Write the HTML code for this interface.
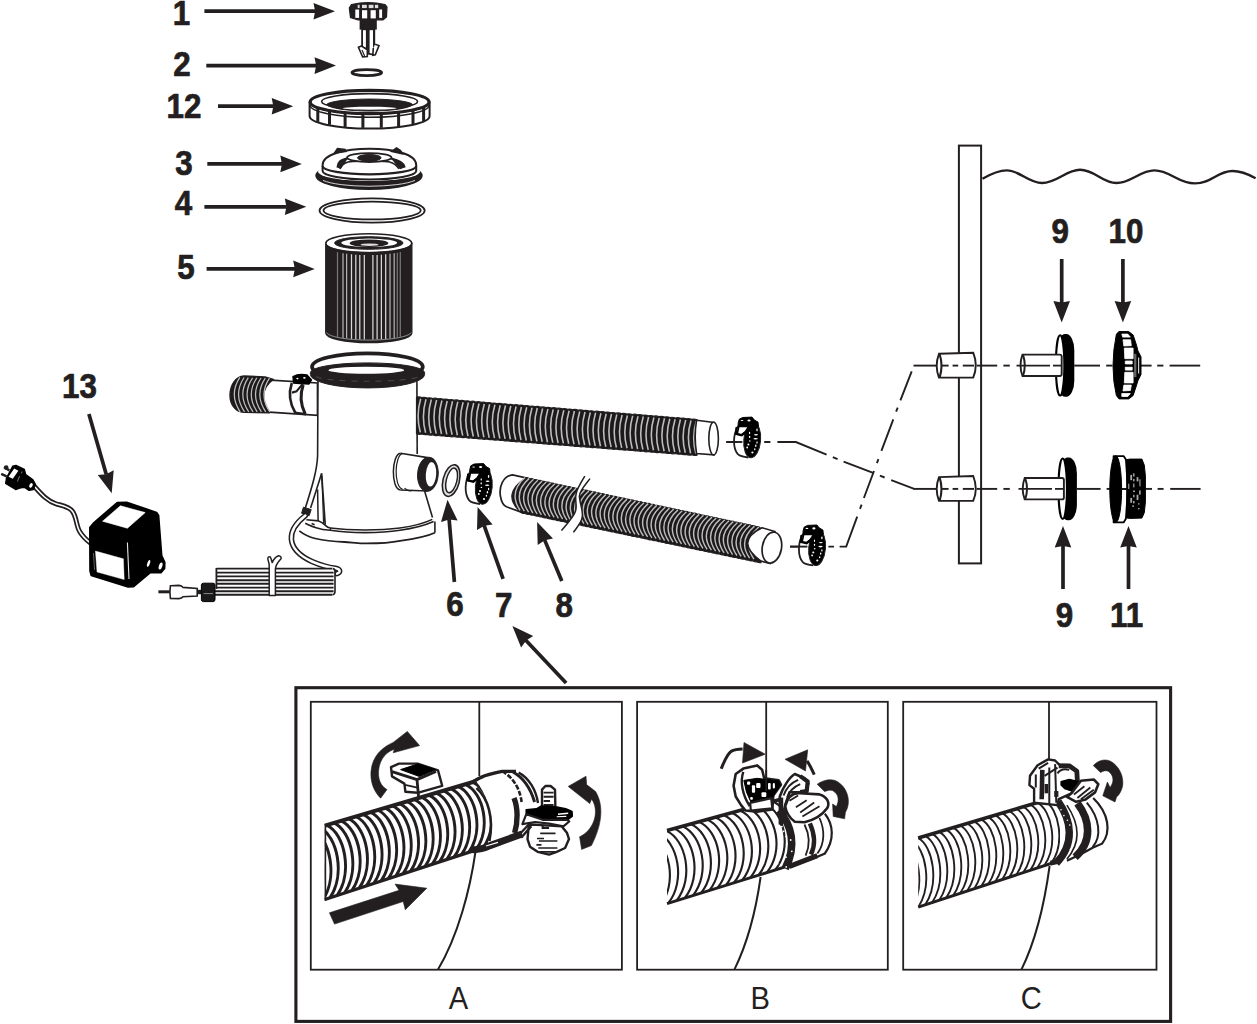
<!DOCTYPE html>
<html lang="en">
<head>
<meta charset="utf-8">
<title>Filter pump parts diagram</title>
<style>
html,body{margin:0;padding:0;background:#fff;}
body{width:1257px;height:1024px;overflow:hidden;font-family:"Liberation Sans",Arial,sans-serif;}
svg{display:block;}
.num{font-family:"Liberation Sans",Arial,sans-serif;font-weight:bold;font-size:33px;fill:#231f20;stroke:#231f20;stroke-width:0.7px;stroke-linejoin:round;text-anchor:middle;}
.let{font-family:"Liberation Sans",Arial,sans-serif;font-weight:normal;font-size:31px;fill:#231f20;text-anchor:middle;}
</style>
</head>
<body>
<svg width="1257" height="1024" viewBox="0 0 1257 1024">
<rect x="0" y="0" width="1257" height="1024" fill="#fff"/>
<g id="base">
<text class="num" transform="translate(181.5 24.9) scale(0.95 1.055)" x="0" y="0">1</text>
<text class="num" transform="translate(182 76.2) scale(0.95 1.055)" x="0" y="0">2</text>
<text class="num" transform="translate(184 117.9) scale(0.95 1.055)" x="0" y="0">12</text>
<text class="num" transform="translate(184 175.2) scale(0.95 1.055)" x="0" y="0">3</text>
<text class="num" transform="translate(183.5 214.6) scale(0.95 1.055)" x="0" y="0">4</text>
<text class="num" transform="translate(186 279.1) scale(0.95 1.055)" x="0" y="0">5</text>
<text class="num" transform="translate(79.5 398.1) scale(0.95 1.055)" x="0" y="0">13</text>
<text class="num" transform="translate(455 616.4) scale(0.95 1.055)" x="0" y="0">6</text>
<text class="num" transform="translate(503.8 617.4) scale(0.95 1.055)" x="0" y="0">7</text>
<text class="num" transform="translate(564.2 617.4) scale(0.95 1.055)" x="0" y="0">8</text>
<text class="num" transform="translate(1060.2 242.9) scale(0.95 1.055)" x="0" y="0">9</text>
<text class="num" transform="translate(1126 242.9) scale(0.95 1.055)" x="0" y="0">10</text>
<text class="num" transform="translate(1064.5 627.4) scale(0.95 1.055)" x="0" y="0">9</text>
<text class="num" transform="translate(1126.5 626.5) scale(0.95 1.055)" x="0" y="0">11</text>
<line x1="204.4" y1="11.2" x2="315.5" y2="11.2" stroke="#231f20" stroke-width="3.7"/><polygon points="335,11.2 313.5,19.5 315.1,11.2 313.5,2.9" fill="#231f20"/>
<line x1="206.3" y1="65.6" x2="316.5" y2="65.6" stroke="#231f20" stroke-width="3.7"/><polygon points="336,65.6 314.5,73.9 316.1,65.6 314.5,57.3" fill="#231f20"/>
<line x1="218" y1="106.2" x2="273.7" y2="106.2" stroke="#231f20" stroke-width="3.7"/><polygon points="293.2,106.2 271.7,114.5 273.3,106.2 271.7,97.9" fill="#231f20"/>
<line x1="207.3" y1="163.9" x2="282.3" y2="163.9" stroke="#231f20" stroke-width="3.7"/><polygon points="301.8,163.9 280.3,172.2 281.9,163.9 280.3,155.6" fill="#231f20"/>
<line x1="204.4" y1="206.8" x2="286.8" y2="206.8" stroke="#231f20" stroke-width="3.7"/><polygon points="306.3,206.8 284.8,215.1 286.4,206.8 284.8,198.5" fill="#231f20"/>
<line x1="206.6" y1="268.9" x2="295.2" y2="268.9" stroke="#231f20" stroke-width="3.7"/><polygon points="314.7,268.9 293.2,277.2 294.8,268.9 293.2,260.6" fill="#231f20"/>
<line x1="88.9" y1="414.1" x2="106.3" y2="474.6" stroke="#231f20" stroke-width="3.7"/><polygon points="111.7,493.3 97.8,474.9 106.2,474.2 113.7,470.3" fill="#231f20"/>
<line x1="454.4" y1="582" x2="449.1" y2="519.2" stroke="#231f20" stroke-width="3.7"/><polygon points="447.5,499.8 457.6,520.5 449.2,519.6 441,521.9" fill="#231f20"/>
<line x1="503.1" y1="578.8" x2="484.1" y2="525.3" stroke="#231f20" stroke-width="3.7"/><polygon points="477.6,506.9 492.6,524.4 484.3,525.7 477,529.9" fill="#231f20"/>
<line x1="561.8" y1="581" x2="544.6" y2="539.9" stroke="#231f20" stroke-width="3.7"/><polygon points="537.1,521.9 553,538.5 544.8,540.3 537.7,544.9" fill="#231f20"/>
<line x1="566.1" y1="683" x2="525.8" y2="640.3" stroke="#231f20" stroke-width="3.7"/><polygon points="512.4,626.1 533.2,636 526.1,640.6 521.1,647.4" fill="#231f20"/>
<line x1="1061.7" y1="259" x2="1061.7" y2="303" stroke="#231f20" stroke-width="3.7"/><polygon points="1061.7,322.5 1053.4,301 1061.7,302.6 1070,301" fill="#231f20"/>
<line x1="1122.9" y1="259" x2="1122.9" y2="303" stroke="#231f20" stroke-width="3.7"/><polygon points="1122.9,322.5 1114.6,301 1122.9,302.6 1131.2,301" fill="#231f20"/>
<line x1="1063" y1="589" x2="1063" y2="545.5" stroke="#231f20" stroke-width="3.7"/><polygon points="1063,526 1071.3,547.5 1063,545.9 1054.7,547.5" fill="#231f20"/>
<line x1="1128.5" y1="589" x2="1128.5" y2="545.5" stroke="#231f20" stroke-width="3.7"/><polygon points="1128.5,526 1136.8,547.5 1128.5,545.9 1120.2,547.5" fill="#231f20"/>
<rect x="295.9" y="687.7" width="874.7" height="333.7" fill="none" stroke="#231f20" stroke-width="3.1" />
<rect x="310.8" y="701.8" width="311.1" height="267.9" fill="none" stroke="#231f20" stroke-width="1.8" />
<rect x="637.1" y="701.8" width="250.7" height="267.9" fill="none" stroke="#231f20" stroke-width="1.8" />
<rect x="903.2" y="701.8" width="253.3" height="267.9" fill="none" stroke="#231f20" stroke-width="1.8" />
<text class="let" transform="translate(458.5 1009.4) scale(0.94 1)" x="0" y="0">A</text>
<text class="let" transform="translate(760.2 1009.4) scale(0.94 1)" x="0" y="0">B</text>
<text class="let" transform="translate(1031.2 1008.9) scale(0.94 1)" x="0" y="0">C</text>
</g>
<g id="top_parts">
<path d="M351.5,4.5 Q368,0.5 385,4.5 L387,7 L386.5,17 L383,19.8 L358,19.8 L350.5,17.5 L349.3,8 Z" fill="#231f20" stroke="#231f20" stroke-width="1.2" />
<rect x="357.7" y="4.8" width="1.9" height="3.3" fill="#fff" opacity="0.85"/>
<rect x="362" y="4.8" width="4.8" height="3.3" fill="#fff" opacity="0.85"/>
<rect x="368.7" y="4.8" width="4.8" height="3.3" fill="#fff" opacity="0.85"/>
<rect x="374.9" y="4.8" width="3.3" height="3.3" fill="#fff" opacity="0.85"/>
<rect x="355.3" y="9.5" width="3.8" height="8.4" fill="#fff"/>
<rect x="362" y="10.2" width="5.2" height="8.2" fill="#fff"/>
<rect x="370.6" y="10.2" width="5.2" height="8.2" fill="#fff"/>
<rect x="379.2" y="9.5" width="2.9" height="8.4" fill="#fff"/>
<rect x="359.6" y="19" width="17.2" height="10.6" fill="#231f20" stroke="none" stroke-width="0" />
<rect x="361.2" y="29" width="14" height="24.5" fill="#231f20" stroke="none" stroke-width="0" />
<rect x="363" y="30.2" width="2.9" height="17.5" fill="#fff" stroke="none" stroke-width="0" />
<rect x="369.6" y="30.2" width="3.4" height="23.5" fill="#fff" stroke="none" stroke-width="0" />
<path d="M358.4,47.2 L361.5,46 L367.3,49.8 L367.3,56.6 L362.6,56.9 Z" fill="#fff" stroke="#231f20" stroke-width="1.6" />
<path d="M362,50 L364.6,56" fill="none" stroke="#231f20" stroke-width="1.2" />
<path d="M375.2,44.2 L379,45.6 L375.3,54.8 L372.8,55.3 L373.3,48" fill="#fff" stroke="#231f20" stroke-width="1.6" />
<path d="M367.8,53.6 L374,54.8" fill="none" stroke="#231f20" stroke-width="1.6" />
<ellipse cx="366.8" cy="72.6" rx="14.8" ry="3" fill="none" stroke="#231f20" stroke-width="2.8" />
<path d="M309.6,101.5 L309.6,116 A60,12.6 0 0 0 429.6,116 L429.6,101.5 A60,12.3 0 0 1 309.6,101.5 Z" fill="#fff" stroke="#231f20" stroke-width="2" />
<path d="M310,105 A59.6,12.3 0 0 0 429.2,105" fill="none" stroke="#231f20" stroke-width="1.5" />
<line x1="317.8" y1="106.9" x2="317.8" y2="121.9" stroke="#231f20" stroke-width="3.0" />
<line x1="329.5" y1="109.8" x2="329.5" y2="124.8" stroke="#231f20" stroke-width="3.0" />
<line x1="345.1" y1="111.9" x2="345.1" y2="126.9" stroke="#231f20" stroke-width="3.0" />
<line x1="362.9" y1="112.9" x2="362.9" y2="127.9" stroke="#231f20" stroke-width="3.0" />
<line x1="381.3" y1="112.8" x2="381.3" y2="127.8" stroke="#231f20" stroke-width="3.0" />
<line x1="398.6" y1="111.5" x2="398.6" y2="126.5" stroke="#231f20" stroke-width="3.0" />
<line x1="413" y1="109.2" x2="413" y2="124.2" stroke="#231f20" stroke-width="3.0" />
<line x1="423.6" y1="106.1" x2="423.6" y2="121.1" stroke="#231f20" stroke-width="3.0" />
<ellipse cx="369.6" cy="102" rx="59.4" ry="11.6" fill="#fff" stroke="#231f20" stroke-width="3.2" />
<ellipse cx="369.6" cy="101.6" rx="48" ry="8" fill="#fff" stroke="#231f20" stroke-width="1.6" />
<path d="M326.5,104.5 A43.5,6.3 0 0 1 412.7,104.5 A43.5,7.6 0 0 1 326.5,104.5 Z" fill="#231f20" stroke="#231f20" stroke-width="1" />
<ellipse cx="369.6" cy="108.2" rx="27" ry="1.5" fill="#fff" stroke="none" stroke-width="0" />
<ellipse cx="369" cy="175.6" rx="52.6" ry="13.2" fill="#231f20" stroke="#231f20" stroke-width="2.2" />
<ellipse cx="369" cy="171.6" rx="51" ry="9.4" fill="#fff" stroke="none" stroke-width="0" />
<path d="M323,180.4 A50,9.6 0 0 0 415,180.4" fill="none" stroke="#fff" stroke-width="0.8" />
<path d="M322.6,165 C323,154 345,148.8 369.5,148.8 C394,148.8 416,154 416.2,165 L416.2,171 A46.8,8.5 0 0 1 322.6,171 Z" fill="#fff" stroke="#231f20" stroke-width="2" />
<path d="M322.6,166 A46.8,8.3 0 0 0 416.2,166" fill="none" stroke="#231f20" stroke-width="2.2" />
<path d="M334.5,153 L337.5,148.5 L345,149.5 L346,151.5 Z" fill="#231f20" stroke="#231f20" stroke-width="1.5" />
<path d="M391.5,151.5 L396.5,148 L400.5,150.5 L402.5,154 Z" fill="#231f20" stroke="#231f20" stroke-width="1.5" />
<path d="M337.5,167.5 C338,160 343,160 347,158.5 C352,153 386,153 391,158.5 C396,160 404,162 404.5,167.5" fill="none" stroke="#231f20" stroke-width="2.2" />
<path d="M340,168.8 C344,160 352,161.2 369,161.2 C386,161.2 393,160 399,168.8" fill="none" stroke="#231f20" stroke-width="1.6" />
<path d="M337.5,167 L341,160.5 L347,159 L340.5,168.5 Z" fill="#231f20" stroke="#231f20" stroke-width="1" />
<path d="M392,159 L399,161 L404.5,167 L400,168.8 Z" fill="#231f20" stroke="#231f20" stroke-width="1" />
<ellipse cx="369.3" cy="157.6" rx="22.2" ry="4.4" fill="#fff" stroke="#231f20" stroke-width="1.8" />
<ellipse cx="369.3" cy="157.8" rx="11.8" ry="3.3" fill="#231f20" stroke="#231f20" stroke-width="1" />
<ellipse cx="372.1" cy="210.5" rx="52.6" ry="12.2" fill="none" stroke="#231f20" stroke-width="1.7" />
<ellipse cx="372.1" cy="210.5" rx="48.6" ry="8.9" fill="none" stroke="#231f20" stroke-width="1.7" />
<path d="M325.8,243.3 L325.8,333 A43,9.6 0 0 0 411.8,333 L411.8,243.3 Z" fill="#231f20" stroke="#231f20" stroke-width="1.4" />
<line x1="337.5" y1="252.1" x2="337.5" y2="336.9" stroke="#777" stroke-width="1.25" />
<line x1="343" y1="253.2" x2="343" y2="337.9" stroke="#b0b0b0" stroke-width="1.25" />
<line x1="346.6" y1="253.7" x2="346.6" y2="338.4" stroke="#b0b0b0" stroke-width="1.25" />
<line x1="351.5" y1="254.3" x2="351.5" y2="338.9" stroke="#d8d8d8" stroke-width="1.25" />
<line x1="355.8" y1="254.7" x2="355.8" y2="339.2" stroke="#d8d8d8" stroke-width="1.25" />
<line x1="359.8" y1="254.9" x2="359.8" y2="339.4" stroke="#d8d8d8" stroke-width="1.25" />
<line x1="364.3" y1="255" x2="364.3" y2="339.6" stroke="#d8d8d8" stroke-width="1.25" />
<line x1="372.9" y1="255.1" x2="372.9" y2="339.6" stroke="#d8d8d8" stroke-width="1.25" />
<line x1="377.1" y1="254.9" x2="377.1" y2="339.4" stroke="#d8d8d8" stroke-width="1.25" />
<line x1="381.4" y1="254.7" x2="381.4" y2="339.2" stroke="#d8d8d8" stroke-width="1.25" />
<line x1="385.7" y1="254.3" x2="385.7" y2="338.9" stroke="#d8d8d8" stroke-width="1.25" />
<line x1="390" y1="253.8" x2="390" y2="338.5" stroke="#b0b0b0" stroke-width="1.25" />
<line x1="394.2" y1="253.2" x2="394.2" y2="337.9" stroke="#b0b0b0" stroke-width="1.25" />
<line x1="397.3" y1="252.7" x2="397.3" y2="337.4" stroke="#777" stroke-width="1.25" />
<line x1="400.3" y1="252" x2="400.3" y2="336.8" stroke="#777" stroke-width="1.25" />
<path d="M326.4,332.5 A42.6,8.4 0 0 0 411.2,332.5" fill="none" stroke="#999" stroke-width="0.9" />
<ellipse cx="368.8" cy="243.3" rx="43" ry="9.6" fill="#fff" stroke="#231f20" stroke-width="1.6" />
<path d="M326.5,244.5 A42.5,8.6 0 0 0 411,244.5 A42.5,10.4 0 0 1 326.5,244.5 Z" fill="#231f20" stroke="#231f20" stroke-width="0.5" />
<ellipse cx="368.8" cy="243" rx="34.2" ry="6.3" fill="#231f20" stroke="#231f20" stroke-width="1" />
<ellipse cx="369.2" cy="242.8" rx="28" ry="4.2" fill="#fff" stroke="none" stroke-width="0" />
<ellipse cx="369" cy="243.2" rx="19.4" ry="3.8" fill="#231f20" stroke="none" stroke-width="0" />
<ellipse cx="369.5" cy="244.7" rx="9" ry="1.2" fill="#ddd" stroke="none" stroke-width="0" />
</g>
<g id="pump">
<path d="M262,379.6 L317.5,383 L317.5,415.4 L262,411.6 Z" fill="#fff" stroke="#231f20" stroke-width="1.7" />
<path d="M244,376 C236,376.6 230.4,384 230,394.6 C229.8,404 235,411.6 244,412.4 L269.6,412.8 C262.6,405 259,389 273.4,379.4 L265,377 Z" fill="#1c1a1b" stroke="#231f20" stroke-width="1.4" stroke-linejoin="round"/>
<path d="M239.8,377.4 Q228.6,394.6 240.2,411.8 M244.1,377.5 Q232.8,394.6 244.5,411.8 M248.3,377.6 Q237.1,394.6 248.7,411.8 M252.6,377.8 Q241.3,394.6 253,411.8 M256.8,377.9 Q245.6,394.6 257.2,411.8 M261,378 Q249.8,394.6 261.4,411.8 M265.3,378.1 Q254.1,394.6 265.7,411.8 M269.5,378.2 Q258.3,394.6 269.9,411.8" fill="none" stroke="#bdbdbd" stroke-width="1.25"/>
<path d="M291.8,383 Q286.6,398.6 295.4,413" fill="none" stroke="#231f20" stroke-width="2.6" />
<path d="M303.2,385 Q298,399.6 305.2,414" fill="none" stroke="#231f20" stroke-width="3.0" />
<path d="M294.6,412.6 L306,414.2" fill="none" stroke="#231f20" stroke-width="2.4" />
<path d="M293,376.5 Q299,373.2 307,375 L311.5,380 L309,384 L300,383.5 L293.5,383 Z" fill="#000" stroke="#000" stroke-width="1.4" stroke-linejoin="round"/>
<ellipse cx="297.4" cy="378.6" rx="1.1" ry="0.8" fill="#fff"/><ellipse cx="304.4" cy="377.8" rx="1.3" ry="0.9" fill="#fff"/>
<path d="M303,383.6 L296.5,391.4 L292,392.6" fill="none" stroke="#231f20" stroke-width="2.2" />
<path d="M318,372 L317.6,456 C317,470 314,482 303.8,513.5 L301.5,521 L299.5,530 C320,548 410,548 434.9,533 L434.9,521.5 L432.3,517 L424.4,490.8 L417.4,455 L416.9,372 Z" fill="#fff" stroke="none" stroke-width="0" />
<path d="M318,380 L317.6,456 C317,470 313,484 303.6,513.5" fill="none" stroke="#231f20" stroke-width="1.6" />
<path d="M416.9,380 L417.2,454" fill="none" stroke="#231f20" stroke-width="1.6" />
<path d="M424.6,491 L432.5,517.5" fill="none" stroke="#231f20" stroke-width="1.6" />
<path d="M321.6,473.6 L310.6,508" fill="none" stroke="#231f20" stroke-width="1.6" />
<path d="M303.4,507.2 L311.2,509.6 L309.2,515.6 L301.6,513.2 Z" fill="#231f20" stroke="#231f20" stroke-width="1" />
<path d="M317.6,489.4 L318.1,520.4" fill="none" stroke="#231f20" stroke-width="1.5" />
<path d="M321.6,473.4 L325.2,524.6" fill="none" stroke="#231f20" stroke-width="1.7" />
<path d="M321.9,476 L323.6,523.8" fill="none" stroke="#231f20" stroke-width="1.2" />
<path d="M306.4,519.8 L318.7,520.9 C322,522 324,524 325.7,525.6 C327,527 329,527.8 330.4,528 C350,530.6 380,530.6 400,528 C414,526 425,523 432.3,519.4" fill="none" stroke="#231f20" stroke-width="1.6" />
<path d="M305.2,523.3 C309,525 312,526.6 315.2,527.4 C320,529 325,530 330.4,530.3 C350,533.4 380,533.4 400,530.3 C414,528.4 426,525 433.6,521.6" fill="none" stroke="#231f20" stroke-width="1.6" />
<path d="M330.4,528 L330.4,530.3" fill="none" stroke="#231f20" stroke-width="1.2" />
<path d="M311.6,523.6 L314.6,524.8" fill="none" stroke="#231f20" stroke-width="1.6" />
<path d="M434.9,521.6 L434.9,532.8" fill="none" stroke="#231f20" stroke-width="1.6" />
<path d="M299.3,530.9 C304,534.6 309,537 315.2,538.5 C326,541 335,541.6 344.5,542 C352,542.6 358,543.4 362,543.4 C380,543.6 392,542.6 400,540.9 C414,539 428,536 434.9,532.8" fill="none" stroke="#231f20" stroke-width="1.8" />
<ellipse cx="367.4" cy="366.8" rx="55.4" ry="13.5" fill="#fff" stroke="#231f20" stroke-width="3.7" />
<path d="M310.4,372.6 A57,9.7 0 0 1 424.6,372.6 L424.6,374.4 A57,13.5 0 0 1 310.4,374.4 Z" fill="#231f20" stroke="#231f20" stroke-width="1" />
<ellipse cx="366.3" cy="370.2" rx="37.9" ry="3.5" fill="#fff" stroke="none" stroke-width="0" />
<path d="M316,376.6 A52,5.6 0 0 0 418.6,376.6" fill="none" stroke="#5a5a5a" stroke-width="0.7" stroke-dasharray="6 6"/>
<path d="M402.5,453.1 L428,457.6 L428,490.9 L402.5,489.9 Z" fill="#fff" stroke="none" stroke-width="0" />
<path d="M400.5,453.2 C391.5,454 390.5,489 400.5,490" fill="#fff" stroke="#231f20" stroke-width="1.5" />
<path d="M402.5,453.6 C394.5,455 393.5,487 402.5,489.2" fill="none" stroke="#231f20" stroke-width="1.2" />
<path d="M400.5,453.2 L427.5,457.6 M400.5,490 L427.5,491" fill="none" stroke="#231f20" stroke-width="1.6" />
<path d="M404.5,488.2 Q408,491.8 412.5,490.4" fill="none" stroke="#231f20" stroke-width="1.2" />
<ellipse cx="427.9" cy="474.2" rx="10.3" ry="17" fill="#231f20" stroke="#231f20" stroke-width="1" transform="rotate(4 427.9 474.2)"/>
<ellipse cx="431" cy="474.3" rx="5.2" ry="12.2" fill="#fff" stroke="none" stroke-width="0" transform="rotate(4 431 474.3)"/>
<ellipse cx="451.2" cy="480.6" rx="8.2" ry="16.2" fill="#ddd" stroke="#231f20" stroke-width="1.6" transform="rotate(14 451.2 480.6)"/>
<ellipse cx="451.6" cy="480.4" rx="5.3" ry="12.6" fill="#fff" stroke="#231f20" stroke-width="1.5" transform="rotate(14 451.6 480.4)"/>
</g>
<g id="hoses">
<path d="M416.5,397.2 Q419.3,396.4 421.9,397.6 Q424.7,396.9 427.3,398.1 Q430.1,397.3 432.7,398.5 Q435.5,397.7 438.1,398.9 Q440.9,398.2 443.5,399.4 Q446.2,398.6 448.9,399.8 Q451.6,399 454.3,400.2 Q457,399.4 459.7,400.7 Q462.4,399.9 465,401.1 Q467.8,400.3 470.4,401.5 Q473.2,400.7 475.8,402 Q478.6,401.2 481.2,402.4 Q484,401.6 486.6,402.8 Q489.4,402 492,403.3 Q494.8,402.5 497.4,403.7 Q500.2,402.9 502.8,404.1 Q505.6,403.3 508.2,404.6 Q511,403.8 513.6,405 Q516.4,404.2 519,405.4 Q521.8,404.6 524.4,405.9 Q527.2,405.1 529.8,406.3 Q532.6,405.5 535.2,406.7 Q538,405.9 540.6,407.2 Q543.3,406.4 546,407.6 Q548.7,406.8 551.4,408 Q554.1,407.2 556.8,408.4 Q559.5,407.7 562.1,408.9 Q564.9,408.1 567.5,409.3 Q570.3,408.5 572.9,409.7 Q575.7,409 578.3,410.2 Q581.1,409.4 583.7,410.6 Q586.5,409.8 589.1,411 Q591.9,410.3 594.5,411.5 Q597.3,410.7 599.9,411.9 Q602.7,411.1 605.3,412.3 Q608.1,411.6 610.7,412.8 Q613.5,412 616.1,413.2 Q618.9,412.4 621.5,413.6 Q624.3,412.9 626.9,414.1 Q629.7,413.3 632.3,414.5 Q635,413.7 637.7,414.9 Q640.4,414.2 643.1,415.4 Q645.8,414.6 648.5,415.8 Q651.2,415 653.8,416.2 Q656.6,415.5 659.2,416.7 Q662,415.9 664.6,417.1 Q667.4,416.3 670,417.5 Q672.8,416.8 675.4,418 Q678.2,417.2 680.8,418.4 Q683.6,417.6 686.2,418.8 Q689,418.1 691.6,419.3 Q694.4,418.5 697,419.7 L697,455.2 Q694.2,456 691.6,454.8 Q688.8,455.6 686.2,454.4 Q683.4,455.2 680.8,454 Q678,454.7 675.4,453.5 Q672.6,454.3 670,453.1 Q667.3,453.9 664.6,452.7 Q661.9,453.5 659.2,452.3 Q656.5,453.1 653.8,451.9 Q651.1,452.7 648.5,451.5 Q645.7,452.3 643.1,451 Q640.3,451.8 637.7,450.6 Q634.9,451.4 632.3,450.2 Q629.5,451 626.9,449.8 Q624.1,450.6 621.5,449.4 Q618.7,450.2 616.1,449 Q613.3,449.8 610.7,448.6 Q607.9,449.3 605.3,448.1 Q602.5,448.9 599.9,447.7 Q597.1,448.5 594.5,447.3 Q591.7,448.1 589.1,446.9 Q586.3,447.7 583.7,446.5 Q580.9,447.3 578.3,446.1 Q575.6,446.9 572.9,445.6 Q570.2,446.4 567.5,445.2 Q564.8,446 562.1,444.8 Q559.4,445.6 556.8,444.4 Q554,445.2 551.4,444 Q548.6,444.8 546,443.6 Q543.2,444.4 540.6,443.2 Q537.8,443.9 535.2,442.7 Q532.4,443.5 529.8,442.3 Q527,443.1 524.4,441.9 Q521.6,442.7 519,441.5 Q516.2,442.3 513.6,441.1 Q510.8,441.9 508.2,440.7 Q505.4,441.5 502.8,440.2 Q500,441 497.4,439.8 Q494.6,440.6 492,439.4 Q489.2,440.2 486.6,439 Q483.9,439.8 481.2,438.6 Q478.5,439.4 475.8,438.2 Q473.1,439 470.4,437.8 Q467.7,438.5 465,437.3 Q462.3,438.1 459.7,436.9 Q456.9,437.7 454.3,436.5 Q451.5,437.3 448.9,436.1 Q446.1,436.9 443.5,435.7 Q440.7,436.5 438.1,435.3 Q435.3,436.1 432.7,434.8 Q429.9,435.6 427.3,434.4 Q424.5,435.2 421.9,434 Q419.1,434.8 416.5,433.6 Z" fill="#1c1a1b" stroke="#231f20" stroke-width="1.2" />
<path d="M420.7,398.8 Q415.7,415.6 420.3,432.4 M426,399.2 Q421,416 425.6,432.8 M431.3,399.6 Q426.3,416.4 430.9,433.2 M436.6,400.1 Q431.6,416.8 436.2,433.6 M441.9,400.5 Q436.9,417.3 441.5,434 M447.2,400.9 Q442.2,417.7 446.8,434.4 M452.5,401.3 Q447.5,418.1 452.1,434.8 M457.8,401.8 Q452.8,418.5 457.4,435.2 M463.1,402.2 Q458.1,418.9 462.7,435.6 M468.4,402.6 Q463.4,419.3 468,436.1 M473.7,403 Q468.7,419.8 473.3,436.5 M479,403.5 Q474,420.2 478.6,436.9 M484.3,403.9 Q479.3,420.6 483.9,437.3 M489.6,404.3 Q484.6,421 489.2,437.7 M494.9,404.7 Q489.9,421.4 494.5,438.1 M500.2,405.2 Q495.2,421.8 499.8,438.5 M505.5,405.6 Q500.5,422.3 505.1,438.9 M510.8,406 Q505.8,422.7 510.4,439.3 M516.1,406.4 Q511.1,423.1 515.7,439.7 M521.4,406.9 Q516.4,423.5 521,440.1 M526.7,407.3 Q521.7,423.9 526.3,440.5 M532,407.7 Q527,424.3 531.6,441 M537.3,408.1 Q532.3,424.8 536.9,441.4 M542.6,408.6 Q537.6,425.2 542.2,441.8 M547.9,409 Q542.9,425.6 547.5,442.2 M553.2,409.4 Q548.2,426 552.8,442.6 M558.5,409.8 Q553.5,426.4 558.1,443 M563.8,410.3 Q558.8,426.8 563.4,443.4 M569.1,410.7 Q564.1,427.3 568.7,443.8 M574.4,411.1 Q569.4,427.7 574,444.2 M579.7,411.5 Q574.7,428.1 579.3,444.6 M585,412 Q580,428.5 584.6,445 M590.3,412.4 Q585.3,428.9 589.9,445.4 M595.6,412.8 Q590.6,429.3 595.2,445.9 M600.9,413.2 Q595.9,429.8 600.5,446.3 M606.2,413.7 Q601.2,430.2 605.8,446.7 M611.5,414.1 Q606.5,430.6 611.1,447.1 M616.8,414.5 Q611.8,431 616.4,447.5 M622.1,414.9 Q617.1,431.4 621.7,447.9 M627.4,415.4 Q622.4,431.8 627,448.3 M632.7,415.8 Q627.7,432.3 632.3,448.7 M638,416.2 Q633,432.7 637.6,449.1 M643.3,416.6 Q638.3,433.1 642.9,449.5 M648.6,417.1 Q643.6,433.5 648.2,449.9 M653.9,417.5 Q648.9,433.9 653.5,450.3 M659.2,417.9 Q654.2,434.3 658.8,450.7 M664.5,418.3 Q659.5,434.8 664.1,451.2 M669.8,418.8 Q664.8,435.2 669.4,451.6 M675.1,419.2 Q670.1,435.6 674.7,452 M680.4,419.6 Q675.4,436 680,452.4 M685.7,420 Q680.7,436.4 685.3,452.8 M691,420.5 Q686,436.8 690.6,453.2 M696.3,420.9 Q691.3,437.3 695.9,453.6" fill="none" stroke="#bdbdbd" stroke-width="1.6"/>
<path d="M696.6,420.2 L714,422.4 L714,454.8 L696.6,453.6 Q693.8,437 696.6,420.2 Z" fill="#fff" stroke="#231f20" stroke-width="1.6" />
<ellipse cx="713.6" cy="438.6" rx="4.8" ry="16.3" fill="#fff" stroke="#231f20" stroke-width="1.6" />
<path d="M527,478.2 L512.6,474.8 C503,476 498.5,487 500.6,497 C501.5,502 503.5,505.5 506.5,506.8 L523,512.8 Z" fill="#fff" stroke="#231f20" stroke-width="1.7" />
<path d="M525.8,477.9 Q528.1,477.5 530,478.8 Q532.3,478.3 534.2,479.7 Q536.4,479.2 538.3,480.6 Q540.6,480.1 542.5,481.4 Q544.8,481 546.7,482.3 Q549,481.9 550.9,483.2 Q553.2,482.8 555.1,484.1 Q557.4,483.7 559.3,485 Q561.5,484.5 563.4,485.9 Q565.7,485.4 567.6,486.8 Q569.9,486.3 571.8,487.6 Q574.1,487.2 576,488.5 Q578.3,488.1 580.2,489.4 Q582.4,489 584.3,490.3 Q586.6,489.9 588.5,491.2 Q590.8,490.7 592.7,492.1 Q595,491.6 596.9,493 Q599.2,492.5 601.1,493.8 Q603.4,493.4 605.3,494.7 Q607.5,494.3 609.4,495.6 Q611.7,495.2 613.6,496.5 Q615.9,496.1 617.8,497.4 Q620.1,496.9 622,498.3 Q624.3,497.8 626.2,499.2 Q628.4,498.7 630.4,500 Q632.6,499.6 634.5,500.9 Q636.8,500.5 638.7,501.8 Q641,501.4 642.9,502.7 Q645.2,502.3 647.1,503.6 Q649.4,503.1 651.3,504.5 Q653.5,504 655.4,505.4 Q657.7,504.9 659.6,506.2 Q661.9,505.8 663.8,507.1 Q666.1,506.7 668,508 Q670.3,507.6 672.2,508.9 Q674.5,508.5 676.4,509.8 Q678.6,509.3 680.5,510.7 Q682.8,510.2 684.7,511.6 Q687,511.1 688.9,512.4 Q691.2,512 693.1,513.3 Q695.4,512.9 697.3,514.2 Q699.5,513.8 701.5,515.1 Q703.7,514.7 705.6,516 Q707.9,515.5 709.8,516.9 Q712.1,516.4 714,517.8 Q716.3,517.3 718.2,518.6 Q720.5,518.2 722.4,519.5 Q724.6,519.1 726.5,520.4 Q728.8,520 730.7,521.3 Q733,520.9 734.9,522.2 Q737.2,521.7 739.1,523.1 Q741.4,522.6 743.3,524 Q745.5,523.5 747.5,524.8 Q749.7,524.4 751.6,525.7 Q753.9,525.3 755.8,526.6 Q758.1,526.2 760,527.5 L761,562.6 Q758.7,563 756.8,561.7 Q754.5,562.2 752.6,560.8 Q750.3,561.3 748.4,560 Q746.1,560.4 744.2,559.1 Q741.9,559.5 739.9,558.2 Q737.7,558.6 735.7,557.3 Q733.4,557.8 731.5,556.4 Q729.2,556.9 727.3,555.6 Q725,556 723.1,554.7 Q720.8,555.1 718.9,553.8 Q716.6,554.3 714.7,552.9 Q712.4,553.4 710.5,552.1 Q708.2,552.5 706.3,551.2 Q704,551.6 702.1,550.3 Q699.8,550.7 697.8,549.4 Q695.6,549.9 693.6,548.5 Q691.3,549 689.4,547.7 Q687.1,548.1 685.2,546.8 Q682.9,547.2 681,545.9 Q678.7,546.3 676.8,545 Q674.5,545.5 672.6,544.1 Q670.3,544.6 668.4,543.3 Q666.1,543.7 664.2,542.4 Q661.9,542.8 659.9,541.5 Q657.7,541.9 655.7,540.6 Q653.4,541.1 651.5,539.7 Q649.2,540.2 647.3,538.9 Q645,539.3 643.1,538 Q640.8,538.4 638.9,537.1 Q636.6,537.6 634.7,536.2 Q632.4,536.7 630.5,535.4 Q628.2,535.8 626.3,534.5 Q624,534.9 622.1,533.6 Q619.8,534 617.8,532.7 Q615.6,533.2 613.6,531.8 Q611.3,532.3 609.4,531 Q607.1,531.4 605.2,530.1 Q602.9,530.5 601,529.2 Q598.7,529.6 596.8,528.3 Q594.5,528.8 592.6,527.4 Q590.3,527.9 588.4,526.6 Q586.1,527 584.2,525.7 Q581.9,526.1 579.9,524.8 Q577.7,525.2 575.7,523.9 Q573.4,524.4 571.5,523 Q569.2,523.5 567.3,522.2 Q565,522.6 563.1,521.3 Q560.8,521.7 558.9,520.4 Q556.6,520.9 554.7,519.5 Q552.4,520 550.5,518.7 Q548.2,519.1 546.3,517.8 Q544,518.2 542.1,516.9 Q539.8,517.3 537.8,516 Q535.6,516.5 533.6,515.1 Q531.3,515.6 529.4,514.3 Q527.1,514.7 525.2,513.4 Q522.9,513.8 521,512.5 Q500.5,494 525.8,477.9 Z" fill="#1c1a1b" stroke="#231f20" stroke-width="1.2" />
<path d="M525,477.5 Q508,492.5 520.1,510.4 M529.2,478.4 Q512.2,493.3 524.4,511.2 M533.5,479.3 Q516.5,494.2 528.6,512.1 M537.8,480.2 Q520.8,495.1 532.9,513 M542,481.1 Q525,496 537.1,513.9 M546.2,482 Q529.2,496.9 541.4,514.8 M550.5,482.9 Q533.5,497.8 545.6,515.7 M554.8,483.8 Q537.8,498.7 549.9,516.6 M559,484.7 Q542,499.6 554.1,517.4 M563.2,485.6 Q546.2,500.5 558.4,518.3 M567.5,486.5 Q550.5,501.4 562.6,519.2 M571.8,487.4 Q554.8,502.3 566.9,520.1 M576,488.3 Q559,503.2 571.1,521 M580.2,489.2 Q563.2,504.1 575.4,521.9 M584.5,490.1 Q567.5,505 579.6,522.8 M588.8,491 Q571.8,505.8 583.9,523.6 M593,491.9 Q576,506.7 588.1,524.5 M597.2,492.8 Q580.2,507.6 592.4,525.4 M601.5,493.7 Q584.5,508.5 596.6,526.3 M605.8,494.6 Q588.8,509.4 600.9,527.2 M610,495.5 Q593,510.3 605.1,528.1 M614.2,496.4 Q597.2,511.2 609.4,529 M618.5,497.3 Q601.5,512.1 613.6,529.8 M622.8,498.2 Q605.8,513 617.9,530.7 M627,499.1 Q610,513.9 622.1,531.6 M631.2,500 Q614.2,514.8 626.4,532.5 M635.5,500.9 Q618.5,515.7 630.6,533.4 M639.8,501.8 Q622.8,516.6 634.9,534.3 M644,502.7 Q627,517.5 639.1,535.2 M648.2,503.6 Q631.2,518.3 643.4,536 M652.5,504.5 Q635.5,519.2 647.6,536.9 M656.8,505.4 Q639.8,520.1 651.9,537.8 M661,506.3 Q644,521 656.1,538.7 M665.2,507.2 Q648.2,521.9 660.4,539.6 M669.5,508.1 Q652.5,522.8 664.6,540.5 M673.8,509 Q656.8,523.7 668.9,541.4 M678,509.9 Q661,524.6 673.1,542.2 M682.2,510.8 Q665.2,525.5 677.4,543.1 M686.5,511.7 Q669.5,526.4 681.6,544 M690.8,512.6 Q673.8,527.3 685.9,544.9 M695,513.5 Q678,528.2 690.1,545.8 M699.2,514.4 Q682.2,529.1 694.4,546.7 M703.5,515.3 Q686.5,530 698.6,547.6 M707.8,516.2 Q690.8,530.8 702.9,548.4 M712,517.1 Q695,531.7 707.1,549.3 M716.2,518 Q699.2,532.6 711.4,550.2 M720.5,518.9 Q703.5,533.5 715.6,551.1 M724.8,519.8 Q707.8,534.4 719.9,552 M729,520.7 Q712,535.3 724.1,552.9 M733.2,521.6 Q716.2,536.2 728.4,553.8 M737.5,522.5 Q720.5,537.1 732.6,554.6 M741.8,523.4 Q724.8,538 736.9,555.5 M746,524.3 Q729,538.9 741.1,556.4 M750.2,525.2 Q733.2,539.8 745.4,557.3 M754.5,526.1 Q737.5,540.7 749.6,558.2 M758.8,527 Q741.8,541.6 753.9,559.1" fill="none" stroke="#bdbdbd" stroke-width="1.4"/>
<path d="M762,527.7 L775,531.6 L770,563.6 L761,561.1 Q733.9,541.6 762,527.7 Z" fill="#fff" stroke="#231f20" stroke-width="1.6" />
<ellipse cx="771.9" cy="547.6" rx="9.6" ry="15.6" fill="#fff" stroke="#231f20" stroke-width="1.7" transform="rotate(10 771.9 547.6)"/>
<path d="M584.8,476.2 C580,484 577,489 576.2,493.5 C574.5,500 577.5,506 575.4,511.5 C573.5,517 567,524 561.4,530.6 L573.4,532.4 C578,526 582,521.5 582.2,517 C583.5,511 579.5,503 579.4,496 C579.5,491 585,485 590,478.6 Z" fill="#fff" stroke="none" stroke-width="0" />
<path d="M584.8,476.2 C580,484 577,489 576.2,493.5 C574.5,500 577.5,506 575.4,511.5 C573.5,517 567,524 561.4,530.6" fill="none" stroke="#231f20" stroke-width="1.5" />
<path d="M590,478.6 C585,485 579.5,491 579.4,496 C579.5,503 583.5,511 582.2,517 C582,521.5 578,526 573.4,532.4" fill="none" stroke="#231f20" stroke-width="1.5" />
<g transform="translate(0 0)"><path d="M470,472.5 C464.6,481 464,494 469,500.6 C471.5,503 476,504 480,504.2 L484,472 Z" fill="#fff" stroke="none" stroke-width="0" /><path d="M469.6,472.6 C464.6,481 464.2,494 469.2,500.4 C471.5,502.8 476,503.6 480,504" fill="none" stroke="#231f20" stroke-width="1.8" /><ellipse cx="483.8" cy="486.6" rx="8.4" ry="17.6" fill="#000" stroke="#231f20" stroke-width="1" transform="rotate(5 483.8 486.6)"/><path d="M469.8,469.6 L470.8,465.8 L474.2,464 L483.6,463.6 L486,466.6 L489.6,468.6 L490,472.6 L486.5,475 L480,474.2 L475.5,473.4 L469.6,472.6 Z" fill="#000" stroke="#000" stroke-width="1" stroke-linejoin="round"/><path d="M470.4,473 L480.5,472.8 L476.8,478.5 L473.2,481.2 L468.8,480.6 Z" fill="#fff" stroke="#000" stroke-width="1.6" /><path d="M468.2,473.6 L467.6,480.4 L473.4,481.8 L478,478" fill="none" stroke="#000" stroke-width="2.2" /><ellipse cx="480.6" cy="467" rx="1.6" ry="1.1" fill="#fff"/><ellipse cx="473.6" cy="467" rx="1.4" ry="0.6" fill="#fff"/><ellipse cx="488.6" cy="476.5" rx="0.7" ry="1.4" fill="#fff"/><ellipse cx="487.6" cy="481.2" rx="2" ry="0.7" fill="#fff"/><ellipse cx="487.2" cy="485.2" rx="2.2" ry="0.8" fill="#fff"/><ellipse cx="481.2" cy="479.4" rx="0.6" ry="1.2" fill="#fff"/><ellipse cx="481.2" cy="483.4" rx="0.7" ry="1.1" fill="#fff"/><ellipse cx="481.4" cy="487.4" rx="0.8" ry="0.7" fill="#fff"/><ellipse cx="480" cy="491" rx="1" ry="0.9" fill="#fff"/><ellipse cx="478.8" cy="494" rx="0.9" ry="0.9" fill="#fff"/><ellipse cx="487.4" cy="492.2" rx="0.7" ry="1.2" fill="#fff"/><ellipse cx="486.4" cy="495.8" rx="0.7" ry="1" fill="#fff"/><ellipse cx="484" cy="499" rx="1.1" ry="1" fill="#fff"/><ellipse cx="488.6" cy="489" rx="0.6" ry="1.2" fill="#fff"/></g>
<g transform="translate(268.4 -46.5)"><path d="M470,472.5 C464.6,481 464,494 469,500.6 C471.5,503 476,504 480,504.2 L484,472 Z" fill="#fff" stroke="none" stroke-width="0" /><path d="M469.6,472.6 C464.6,481 464.2,494 469.2,500.4 C471.5,502.8 476,503.6 480,504" fill="none" stroke="#231f20" stroke-width="1.8" /><ellipse cx="483.8" cy="486.6" rx="8.4" ry="17.6" fill="#000" stroke="#231f20" stroke-width="1" transform="rotate(5 483.8 486.6)"/><path d="M469.8,469.6 L470.8,465.8 L474.2,464 L483.6,463.6 L486,466.6 L489.6,468.6 L490,472.6 L486.5,475 L480,474.2 L475.5,473.4 L469.6,472.6 Z" fill="#000" stroke="#000" stroke-width="1" stroke-linejoin="round"/><path d="M470.4,473 L480.5,472.8 L476.8,478.5 L473.2,481.2 L468.8,480.6 Z" fill="#fff" stroke="#000" stroke-width="1.6" /><path d="M468.2,473.6 L467.6,480.4 L473.4,481.8 L478,478" fill="none" stroke="#000" stroke-width="2.2" /><ellipse cx="480.6" cy="467" rx="1.6" ry="1.1" fill="#fff"/><ellipse cx="473.6" cy="467" rx="1.4" ry="0.6" fill="#fff"/><ellipse cx="488.6" cy="476.5" rx="0.7" ry="1.4" fill="#fff"/><ellipse cx="487.6" cy="481.2" rx="2" ry="0.7" fill="#fff"/><ellipse cx="487.2" cy="485.2" rx="2.2" ry="0.8" fill="#fff"/><ellipse cx="481.2" cy="479.4" rx="0.6" ry="1.2" fill="#fff"/><ellipse cx="481.2" cy="483.4" rx="0.7" ry="1.1" fill="#fff"/><ellipse cx="481.4" cy="487.4" rx="0.8" ry="0.7" fill="#fff"/><ellipse cx="480" cy="491" rx="1" ry="0.9" fill="#fff"/><ellipse cx="478.8" cy="494" rx="0.9" ry="0.9" fill="#fff"/><ellipse cx="487.4" cy="492.2" rx="0.7" ry="1.2" fill="#fff"/><ellipse cx="486.4" cy="495.8" rx="0.7" ry="1" fill="#fff"/><ellipse cx="484" cy="499" rx="1.1" ry="1" fill="#fff"/><ellipse cx="488.6" cy="489" rx="0.6" ry="1.2" fill="#fff"/></g>
<g transform="translate(333.3 61.4)"><path d="M470,472.5 C464.6,481 464,494 469,500.6 C471.5,503 476,504 480,504.2 L484,472 Z" fill="#fff" stroke="none" stroke-width="0" /><path d="M469.6,472.6 C464.6,481 464.2,494 469.2,500.4 C471.5,502.8 476,503.6 480,504" fill="none" stroke="#231f20" stroke-width="1.8" /><ellipse cx="483.8" cy="486.6" rx="8.4" ry="17.6" fill="#000" stroke="#231f20" stroke-width="1" transform="rotate(5 483.8 486.6)"/><path d="M469.8,469.6 L470.8,465.8 L474.2,464 L483.6,463.6 L486,466.6 L489.6,468.6 L490,472.6 L486.5,475 L480,474.2 L475.5,473.4 L469.6,472.6 Z" fill="#000" stroke="#000" stroke-width="1" stroke-linejoin="round"/><path d="M470.4,473 L480.5,472.8 L476.8,478.5 L473.2,481.2 L468.8,480.6 Z" fill="#fff" stroke="#000" stroke-width="1.6" /><path d="M468.2,473.6 L467.6,480.4 L473.4,481.8 L478,478" fill="none" stroke="#000" stroke-width="2.2" /><ellipse cx="480.6" cy="467" rx="1.6" ry="1.1" fill="#fff"/><ellipse cx="473.6" cy="467" rx="1.4" ry="0.6" fill="#fff"/><ellipse cx="488.6" cy="476.5" rx="0.7" ry="1.4" fill="#fff"/><ellipse cx="487.6" cy="481.2" rx="2" ry="0.7" fill="#fff"/><ellipse cx="487.2" cy="485.2" rx="2.2" ry="0.8" fill="#fff"/><ellipse cx="481.2" cy="479.4" rx="0.6" ry="1.2" fill="#fff"/><ellipse cx="481.2" cy="483.4" rx="0.7" ry="1.1" fill="#fff"/><ellipse cx="481.4" cy="487.4" rx="0.8" ry="0.7" fill="#fff"/><ellipse cx="480" cy="491" rx="1" ry="0.9" fill="#fff"/><ellipse cx="478.8" cy="494" rx="0.9" ry="0.9" fill="#fff"/><ellipse cx="487.4" cy="492.2" rx="0.7" ry="1.2" fill="#fff"/><ellipse cx="486.4" cy="495.8" rx="0.7" ry="1" fill="#fff"/><ellipse cx="484" cy="499" rx="1.1" ry="1" fill="#fff"/><ellipse cx="488.6" cy="489" rx="0.6" ry="1.2" fill="#fff"/></g>
<line x1="726.3" y1="442" x2="742.4" y2="442" stroke="#231f20" stroke-width="1.9" />
<line x1="790" y1="546.6" x2="807.4" y2="546.6" stroke="#231f20" stroke-width="1.9" />
</g>
<g id="right">
<rect x="958.9" y="145.6" width="22.2" height="417.8" fill="none" stroke="#231f20" stroke-width="2" />
<path d="M982.5,178.8 C989,175 997,170.4 1006.8,170.4 C1020,170.4 1028,183 1042.1,183 C1057,183 1066,169.8 1080,169.8 C1095,169.8 1102,183 1116.5,183 C1131,183 1140,170.4 1154.4,170.4 C1170,170.4 1178,183.4 1194.7,183.4 C1212,183.4 1217,171 1232.5,171 C1241,171 1249,174.6 1255.6,178.2" fill="none" stroke="#231f20" stroke-width="2.4" />
<line x1="913.5" y1="365.6" x2="936" y2="365.6" stroke="#231f20" stroke-width="1.9" />
<line x1="913.5" y1="488.9" x2="936" y2="488.9" stroke="#231f20" stroke-width="1.9" />
<path d="M939,353.8 L973.2,352.7 Q978.4,365.6 973.2,377.6 L939,377.6 Q934.4,365.6 939,353.8 Z" fill="#fff" stroke="#231f20" stroke-width="1.9" /><path d="M939.6,354 Q943.4,365.6 939.6,377.6" fill="none" stroke="#231f20" stroke-width="2.1" />
<path d="M939,477.1 L973.2,476 Q978.4,488.9 973.2,500.9 L939,500.9 Q934.4,488.9 939,477.1 Z" fill="#fff" stroke="#231f20" stroke-width="1.9" /><path d="M939.6,477.3 Q943.4,488.9 939.6,500.9" fill="none" stroke="#231f20" stroke-width="2.1" />
<line x1="941.5" y1="365.6" x2="948.6" y2="365.6" stroke="#231f20" stroke-width="1.9" />
<line x1="952.6" y1="365.6" x2="958.2" y2="365.6" stroke="#231f20" stroke-width="1.9" />
<line x1="962.8" y1="365.6" x2="974" y2="365.6" stroke="#231f20" stroke-width="1.9" />
<line x1="976.8" y1="365.6" x2="997.2" y2="365.6" stroke="#231f20" stroke-width="1.9" />
<line x1="1003.4" y1="365.6" x2="1009.8" y2="365.6" stroke="#231f20" stroke-width="1.9" />
<line x1="941.5" y1="488.9" x2="948.6" y2="488.9" stroke="#231f20" stroke-width="1.9" />
<line x1="952.6" y1="488.9" x2="958.2" y2="488.9" stroke="#231f20" stroke-width="1.9" />
<line x1="962.8" y1="488.9" x2="974" y2="488.9" stroke="#231f20" stroke-width="1.9" />
<line x1="976.8" y1="488.9" x2="997.2" y2="488.9" stroke="#231f20" stroke-width="1.9" />
<line x1="1003.4" y1="488.9" x2="1009.8" y2="488.9" stroke="#231f20" stroke-width="1.9" />
<rect x="1057.1" y="334" width="17.2" height="62.8" rx="8" ry="16" fill="#000"/><ellipse cx="1060.1" cy="365.4" rx="4.2" ry="30.2" fill="#fff" stroke="#000" stroke-width="2.0" /><path d="M1022.5,354.6 L1059.7,354.6 Q1061.7,354.6 1061.7,356.6 L1061.7,374 Q1061.7,376 1059.7,376 L1022.5,376 Q1018.5,365.4 1022.5,354.6 Z" fill="#fff" stroke="#231f20" stroke-width="1.9" /><path d="M1023.1,355.1 Q1026.5,365.4 1023.1,375.5" fill="none" stroke="#231f20" stroke-width="2.0" />
<rect x="1059.7" y="457.4" width="17.2" height="62.8" rx="8" ry="16" fill="#000"/><ellipse cx="1062.7" cy="488.8" rx="4.2" ry="30.2" fill="#fff" stroke="#000" stroke-width="2.0" /><path d="M1024.7,478 L1061.9,478 Q1063.9,478 1063.9,480 L1063.9,497.4 Q1063.9,499.4 1061.9,499.4 L1024.7,499.4 Q1020.7,488.8 1024.7,478 Z" fill="#fff" stroke="#231f20" stroke-width="1.9" /><path d="M1025.3,478.5 Q1028.7,488.8 1025.3,498.9" fill="none" stroke="#231f20" stroke-width="2.0" />
<line x1="1016.5" y1="365.6" x2="1050" y2="365.6" stroke="#231f20" stroke-width="1.8" />
<line x1="1053" y1="365.6" x2="1061" y2="365.6" stroke="#231f20" stroke-width="1.8" />
<line x1="1018.5" y1="488.9" x2="1052" y2="488.9" stroke="#231f20" stroke-width="1.8" />
<line x1="1055" y1="488.9" x2="1063" y2="488.9" stroke="#231f20" stroke-width="1.8" />
<line x1="1074.2" y1="365.6" x2="1100" y2="365.6" stroke="#231f20" stroke-width="1.9" />
<line x1="1106.2" y1="365.6" x2="1112.4" y2="365.6" stroke="#231f20" stroke-width="1.9" />
<line x1="1140.4" y1="365.6" x2="1151.6" y2="365.6" stroke="#231f20" stroke-width="1.9" />
<line x1="1157.2" y1="365.6" x2="1163.4" y2="365.6" stroke="#231f20" stroke-width="1.9" />
<line x1="1169.6" y1="365.6" x2="1200.2" y2="365.6" stroke="#231f20" stroke-width="1.9" />
<line x1="1076.4" y1="488.9" x2="1100.6" y2="488.9" stroke="#231f20" stroke-width="1.9" />
<line x1="1106.6" y1="488.9" x2="1127" y2="488.9" stroke="#231f20" stroke-width="1.9" />
<line x1="1145.4" y1="488.9" x2="1152" y2="488.9" stroke="#231f20" stroke-width="1.9" />
<line x1="1157.6" y1="488.9" x2="1163.6" y2="488.9" stroke="#231f20" stroke-width="1.9" />
<line x1="1170.2" y1="488.9" x2="1200.6" y2="488.9" stroke="#231f20" stroke-width="1.9" />
<path d="M790,546.6 L800,546.6 M828.4,546.6 L834,546.6 M839.6,546.6 L846.2,546.6 L857.2,516.6 M860,508.8 L861.6,504.6 M863.9,498 L874,471 M876.9,463.2 L878.4,459.2 M881.4,450.9 L893.3,419.3 M896.1,411.6 L897.7,407.6 M900.4,400.4 L911.7,371.4" fill="none" stroke="#231f20" stroke-width="1.9" />
<path d="M726.3,442 L737,442 M764.2,442 L770.4,442 M777.4,442 L795.9,442 L826.6,454.6 M832.8,457.1 L837.6,459.1 M843.6,461.6 L873.8,473.2 M879.9,475.6 L884.6,477.5 M891.2,480.2 L914.2,488.9" fill="none" stroke="#231f20" stroke-width="1.9" />
<polygon points="1116.4,334.1 1119,331.6 1128.7,331.6 1133.1,334.9 1136.6,345.5 1137.9,350.8 1141,356.9 1141,374.5 1137.9,380.7 1136.6,385.1 1133.1,395.6 1128.7,398.9 1119,398.9 1116.4,395.6 1113.9,381.5 1113,365.7 1113.9,349.9" fill="#000" stroke="#000" stroke-width="1" stroke-linejoin="round"/>
<polygon points="1121.8,334.1 1127.8,334.1 1130.3,337.1 1122.7,337.1" fill="#fff" stroke="#fff" stroke-width="0.8" stroke-linejoin="round"/>
<polygon points="1123,339.8 1130.6,339.8 1131.3,345.7 1123.8,346" fill="#fff" stroke="#fff" stroke-width="0.8" stroke-linejoin="round"/>
<polygon points="1124.3,348.1 1133.1,348.1 1133.1,358.7 1124.8,358.7" fill="#fff" stroke="#fff" stroke-width="0.8" stroke-linejoin="round"/>
<polygon points="1125.3,361 1132.2,361 1132.2,364 1125.3,364" fill="#fff" stroke="#fff" stroke-width="0.8" stroke-linejoin="round"/>
<polygon points="1125.3,367.1 1132.2,367.1 1132.2,370.1 1125.3,370.1" fill="#fff" stroke="#fff" stroke-width="0.8" stroke-linejoin="round"/>
<polygon points="1124.8,372.3 1133.1,372.3 1133.1,382.9 1124.3,382.9" fill="#fff" stroke="#fff" stroke-width="0.8" stroke-linejoin="round"/>
<polygon points="1123.8,385.1 1131.3,385.1 1130.4,390.5 1123,390.9" fill="#fff" stroke="#fff" stroke-width="0.8" stroke-linejoin="round"/>
<polygon points="1121.8,393.5 1130.3,393.5 1127.8,396.5 1121.8,396.5" fill="#fff" stroke="#fff" stroke-width="0.8" stroke-linejoin="round"/>
<polygon points="1134.1,353.8 1136.4,353.8 1136.4,377.1 1134.1,377.1" fill="#666" stroke="none" stroke-width="0" />
<polygon points="1138,357.4 1139.2,357.4 1139.2,373.6 1138,373.6" fill="#ccc" stroke="none" stroke-width="0" />
<line x1="1125" y1="365.6" x2="1133.4" y2="365.6" stroke="#000" stroke-width="1.4" />
<polygon points="1126,459.9 1129.6,459.1 1141.9,459.1 1144.3,465.2 1145.4,475.8 1145.4,502.1 1144.3,512.7 1141.9,518.1 1129.6,518.4 1126,517.8" fill="#000" stroke="#000" stroke-width="1" stroke-linejoin="round"/>
<polygon points="1113.6,456.1 1123.6,456.1 1125.9,459.5 1126.9,474 1127.1,489 1126.9,503.9 1125.9,518.7 1123.6,522.4 1113.6,522.4" fill="#fff" stroke="#000" stroke-width="1.8" stroke-linejoin="round"/>
<ellipse cx="1115.7" cy="489.2" rx="5.9" ry="33.4" fill="#000" stroke="#000" stroke-width="1" />
<line x1="1121.6" y1="489" x2="1127.4" y2="489" stroke="#000" stroke-width="1.8" />
<rect x="1130.3" y="474.9" width="1.8" height="5.3" fill="#aaa"/>
<rect x="1133.1" y="473.3" width="1.4" height="3.2" fill="#aaa"/>
<rect x="1136.6" y="477.2" width="1.8" height="4.2" fill="#aaa"/>
<rect x="1133.1" y="478.9" width="1.4" height="2.5" fill="#aaa"/>
<rect x="1128.2" y="483.7" width="1.1" height="5.3" fill="#aaa"/>
<rect x="1133.2" y="483.5" width="1.2" height="3.9" fill="#aaa"/>
<rect x="1139.4" y="479.3" width="1.1" height="7" fill="#aaa"/>
<rect x="1133.1" y="490.5" width="1.8" height="1.6" fill="#aaa"/>
<rect x="1139.1" y="490.4" width="1.6" height="4.2" fill="#aaa"/>
<rect x="1133.1" y="494.8" width="1.4" height="2.5" fill="#aaa"/>
<rect x="1136.6" y="494.7" width="1.8" height="5.3" fill="#aaa"/>
<rect x="1130.3" y="497.9" width="1.8" height="4.9" fill="#aaa"/>
<rect x="1133.1" y="500.9" width="1.4" height="2.5" fill="#aaa"/>
<rect x="1132.2" y="505.4" width="1.8" height="1.4" fill="#aaa"/>
<rect x="1138.1" y="503.2" width="1.4" height="1.4" fill="#aaa"/>
<rect x="1138.1" y="508" width="1.4" height="1.4" fill="#aaa"/>
</g>
<g id="power">
<path d="M34.5,486.5 C42,495 48,501.5 56,503.8 C62,505.6 69,506.5 72.6,511.5 C77,518 76,526 80,532 C83,537 87,540.5 91,543.5" fill="none" stroke="#231f20" stroke-width="5.0" stroke-linecap="round"/><path d="M34.5,486.5 C42,495 48,501.5 56,503.8 C62,505.6 69,506.5 72.6,511.5 C77,518 76,526 80,532 C83,537 87,540.5 91,543.5" fill="none" stroke="#fff" stroke-width="1.5" stroke-linecap="round"/>
<path d="M1.2,473.8 L6.6,476.4 M4,467.2 L9.4,470.4" fill="none" stroke="#231f20" stroke-width="2.4" />
<circle cx="6.2" cy="467.6" r="2.3" fill="#231f20"/>
<path d="M6.4,478 L12.6,466.2 L16,465.4 L24.4,469.4 L25.8,474.6 L33,479.8 L35.6,484.6 L33.4,489.6 L29,490.4 L24.6,487.4 L20.6,488 L15.6,489.6 L5.6,483.4 Z" fill="#000" stroke="#000" stroke-width="1.2" stroke-linejoin="round"/>
<polygon points="8.6,476.8 14.2,468.6 18.4,470.8 12.8,478.8" fill="#fff" stroke="none" stroke-width="0" />
<ellipse cx="31" cy="485.4" rx="1.6" ry="2.5" fill="#fff" stroke="none" stroke-width="0" transform="rotate(25 31 485.4)"/>
<path d="M19.6,476 L17.4,481.6 M22,471.5 L21.4,473.4" fill="none" stroke="#888" stroke-width="0.9" />
<polygon points="89.8,527.5 94,522.6 117.2,502.5 126.6,502.3 156.6,512.4 158.6,515.4 161.7,555.6 164.8,562.4 164.6,568.6 161,572.8 150,572.8 133.6,586.6 128.1,587 91.2,575.6 90,571" fill="#000" stroke="#000" stroke-width="1.6" stroke-linejoin="round"/>
<polygon points="102.6,521.2 120.4,505.8 145.2,512.6 127.4,528.2" fill="#fff" stroke="#fff" stroke-width="0.6" stroke-linejoin="round"/>
<polygon points="95.4,551 123.4,558.8 124.2,579.6 97,572" fill="#fff" stroke="#fff" stroke-width="0.4" />
<line x1="127.4" y1="542.4" x2="129" y2="579" stroke="#e6e6e6" stroke-width="1.1" />
<line x1="93.4" y1="553" x2="94.6" y2="570" stroke="#777" stroke-width="0.8" />
<ellipse cx="148.6" cy="563.4" rx="1.3" ry="3.6" fill="#fff" stroke="none" stroke-width="0" transform="rotate(18 148.6 563.4)"/>
<ellipse cx="160.6" cy="566" rx="1.7" ry="3.6" fill="#fff" stroke="none" stroke-width="0" transform="rotate(18 160.6 566)"/>
<path d="M305.4,515.6 C296,523 290.6,531 291.4,539.5 C292.4,549 301,556.5 312,561.5 C320,565 329,567.5 335.4,568.2 C340,568.8 341.4,572.4 337,573.6" fill="none" stroke="#231f20" stroke-width="5.6" stroke-linecap="round"/><path d="M305.4,515.6 C296,523 290.6,531 291.4,539.5 C292.4,549 301,556.5 312,561.5 C320,565 329,567.5 335.4,568.2 C340,568.8 341.4,572.4 337,573.6" fill="none" stroke="#fff" stroke-width="2.5" stroke-linecap="round"/>
<path d="M216,568 L331,568 Q334.6,568 334.6,571 L334.6,592 Q334.6,595.4 331,595.4 L216,595.4 Z" fill="#fff" stroke="none" stroke-width="0" />
<line x1="216.6" y1="568.6" x2="332.4" y2="568.6" stroke="#231f20" stroke-width="1.9" />
<line x1="216.6" y1="572.6" x2="333.6" y2="572.6" stroke="#231f20" stroke-width="1.9" />
<line x1="216.6" y1="576.4" x2="333.6" y2="576.4" stroke="#231f20" stroke-width="1.9" />
<line x1="216.6" y1="580.2" x2="333.6" y2="580.2" stroke="#231f20" stroke-width="1.9" />
<line x1="216.6" y1="583.8" x2="333.6" y2="583.8" stroke="#231f20" stroke-width="1.9" />
<line x1="216.6" y1="587.6" x2="333.6" y2="587.6" stroke="#231f20" stroke-width="1.9" />
<line x1="214" y1="591.2" x2="333.6" y2="591.2" stroke="#231f20" stroke-width="1.9" />
<line x1="214" y1="594.8" x2="332.4" y2="594.8" stroke="#231f20" stroke-width="1.9" />
<line x1="216.4" y1="568" x2="216.4" y2="589" stroke="#231f20" stroke-width="1.8" />
<path d="M333,568.6 Q335.2,569 335,572 L335,591.6 Q335,594.4 332.6,594.8" fill="none" stroke="#231f20" stroke-width="1.6" />
<path d="M269.2,595.6 L269.2,566.5 C269.4,562 267.6,560.2 267.8,558.4 C268.2,556.4 270.6,556.2 271,558.6 L272.2,562.6 C273.6,559.4 276.2,556.6 278.6,555.8 C280.8,556 281.6,557.6 281,558.8 C278.6,561.4 275.8,565 275.4,568.5 L275.4,595.6 Z" fill="#fff" stroke="#231f20" stroke-width="1.5" stroke-linejoin="round"/>
<line x1="158.4" y1="591.8" x2="170" y2="591.8" stroke="#231f20" stroke-width="3" />
<path d="M170.4,585.8 L179,585.4 Q181.8,585.6 183,587.4 L197.2,588.4 L197.2,596 L183,596.8 Q181.8,598.4 179,598.6 L170.4,598.4 Q169.4,592 170.4,585.8 Z" fill="#fff" stroke="#231f20" stroke-width="1.6" />
<line x1="197.4" y1="592" x2="201" y2="592" stroke="#231f20" stroke-width="4.4" />
<rect x="201.4" y="583.2" width="13.6" height="18.4" fill="#1a1a1a" stroke="#000" stroke-width="1" rx="2"/>
<line x1="203.6" y1="593.6" x2="213" y2="593.6" stroke="#888" stroke-width="1" />
</g>
<g id="panels">
<line x1="479.3" y1="702" x2="479.3" y2="776" stroke="#231f20" stroke-width="1.8" />
<path d="M475.6,851 C470,890 458,936 438,969.6" fill="none" stroke="#231f20" stroke-width="2" />
<clipPath id="hc1"><polygon points="324.8,824.6 490,776 490,846.4 324.8,900.5"/></clipPath><polygon points="324.8,824.6 490,776 490,846.4 324.8,900.5" fill="#fff"/><g clip-path="url(#hc1)"><path d="M282.8,838 C301.2,846.6 308.9,886.8 293.4,909.8 M290.1,835.8 C308.5,844.4 316.2,884.5 300.7,907.4 M297.4,833.7 C315.8,842.2 323.5,882.2 308,905 M304.7,831.5 C323.1,840 330.8,879.9 315.3,902.6 M312,829.4 C330.4,837.9 338.1,877.5 322.6,900.2 M319.3,827.2 C337.7,835.7 345.4,875.2 329.9,897.8 M326.6,825.1 C345,833.5 352.7,872.9 337.2,895.4 M333.9,822.9 C352.3,831.3 360,870.6 344.5,893 M341.2,820.8 C359.6,829.2 367.3,868.3 351.8,890.7 M348.5,818.6 C366.9,827 374.6,866 359.1,888.3 M355.8,816.5 C374.2,824.8 381.9,863.7 366.4,885.9 M363.1,814.3 C381.5,822.6 389.2,861.4 373.7,883.5 M370.4,812.2 C388.8,820.5 396.5,859 381,881.1 M377.7,810 C396.1,818.3 403.8,856.7 388.3,878.7 M385,807.9 C403.4,816.1 411.1,854.4 395.6,876.3 M392.3,805.7 C410.7,813.9 418.4,852.1 402.9,873.9 M399.6,803.6 C418,811.7 425.7,849.8 410.2,871.5 M406.9,801.4 C425.3,809.6 433,847.5 417.5,869.1 M414.2,799.3 C432.6,807.4 440.3,845.2 424.8,866.8 M421.5,797.2 C439.9,805.2 447.6,842.9 432.1,864.4 M428.8,795 C447.2,803 454.9,840.5 439.4,862 M436.1,792.9 C454.5,800.9 462.2,838.2 446.7,859.6 M443.4,790.7 C461.8,798.7 469.5,835.9 454,857.2 M450.7,788.6 C469.1,796.5 476.8,833.6 461.3,854.8 M458,786.4 C476.4,794.3 484.1,831.3 468.6,852.4 M465.3,784.3 C483.7,792.2 491.4,829 475.9,850 M472.6,782.1 C491,790 498.7,826.7 483.2,847.6 M479.9,780 C498.3,787.8 506,824.4 490.5,845.2 M487.2,777.8 C505.6,785.6 513.3,822 497.8,842.8" fill="none" stroke="#231f20" stroke-width="3.0"/></g><path d="M324.8,825.6 L490,777" stroke="#231f20" stroke-width="4.0" fill="none"/><path d="M324.8,899.5 L490,845.4" stroke="#231f20" stroke-width="3.4" fill="none"/><path d="M325.4,824.2 L325.4,900.9" stroke="#231f20" stroke-width="1.6" fill="none"/>
<path d="M476,781 C480,777 486,776.4 491,773.6 L503,771 C515,775 522,790 520,812 C519,826 516,834 512,838 L490,846 C488,848 487,849 486,849.4 C494,830 492,800 476,781 Z" fill="#fff" stroke="none" stroke-width="0" />
<path d="M472,782.2 C476,780.4 478,778.6 481,777.4 C486,775 492,773.4 502,771.4 L516,771.4" fill="none" stroke="#231f20" stroke-width="3.4" stroke-linejoin="round"/>
<path d="M476.5,788 C488,798 494,818 489.4,841" fill="none" stroke="#231f20" stroke-width="2.6" />
<path d="M472,849.6 C479,850 484,848.4 490,845.6 L522,834" fill="none" stroke="#231f20" stroke-width="7" />
<path d="M486,846 L498,842.4" fill="none" stroke="#fff" stroke-width="1.2" />
<path d="M502,771.4 C512,776 520,788 521.6,802" fill="none" stroke="#231f20" stroke-width="2.6" stroke-dasharray="5 1.6"/>
<path d="M513,772 C524,778 531,790 534.6,802" fill="none" stroke="#231f20" stroke-width="3.0" />
<path d="M518.6,772.6 C529,778 536,790 538,803" fill="none" stroke="#231f20" stroke-width="2.4" />
<path d="M514,798 C518,808 518,822 514.6,833" fill="none" stroke="#231f20" stroke-width="5.4" />
<path d="M518,836 L531,822" fill="none" stroke="#231f20" stroke-width="2.2" />
<path d="M542,808 L542,789.6 L545.4,786 L550.6,786 L555,789.6 L555.4,808 Z" fill="#fff" stroke="#231f20" stroke-width="2.4" stroke-linejoin="round"/>
<path d="M543.6,792.6 L553.6,792.6 M543.6,796.8 L553.6,796.8 M543.6,801 L550,801 M543.6,805 L553.6,805" fill="none" stroke="#231f20" stroke-width="1.9" />
<path d="M526.2,809.8 L536.4,808.8 L541.5,806 L556.7,807 L565.7,808.8 L572,811.4 L572.3,816.2 L568.2,819.4 L542.7,819.8 L531.3,816.2 L526.2,813.9 Z" fill="#000" stroke="#000" stroke-width="1.5" stroke-linejoin="round"/>
<path d="M558,814.3 L568.2,813.3" fill="none" stroke="#fff" stroke-width="1.5" />
<path d="M556.7,816.8 L566.3,816.4" fill="none" stroke="#fff" stroke-width="1.1" />
<path d="M526.2,814.3 L542.7,819.8 L566.9,819.8 L569.2,821.5 L563.4,826.4 L549.1,823.6 L535.1,822 L522.4,824.1 Z" fill="#fff" stroke="#231f20" stroke-width="2.2" stroke-linejoin="round"/>
<path d="M528.7,826.4 L531.3,824.5 L541.5,825.1 L561.8,826.4 L566.9,832.7 L569,839.1 L565.1,848 L556.7,851.8 L549.1,854.6 L537.6,851.8 L530,846.7 L527.5,839.1 Z" fill="#fff" stroke="#231f20" stroke-width="2.4" stroke-linejoin="round"/>
<path d="M540.2,833.4 L555.5,833.4M537,838.5 L544,838.5M538.9,841 L557.4,841M536.4,844.8 L541.5,844.8M538.3,848 L557.4,848M539.6,851.8 L555.5,851.8" fill="none" stroke="#231f20" stroke-width="1.7" />
<path d="M542.7,825.4 L542.7,827.9 L549.1,827.9" fill="none" stroke="#231f20" stroke-width="2.2" />
<path d="M521.1,837.8 L531.3,826.1" fill="none" stroke="#231f20" stroke-width="2.4" />
<path d="M568.2,786.4 L586,776.2 L586.6,784.6 L595.6,791.6 C603,804 603.5,822 591.4,845.6 L581.6,849.4 L579.6,836.8 C593,831 600.5,812 591.6,799 L589.8,803.6 Z" fill="#231f20" stroke="#231f20" stroke-width="0.6" stroke-linejoin="round"/>
<path d="M407.3,731.4 L419.6,745.6 L393.2,752.8 L394.4,749.2 C384,752.6 377.6,763 378.6,775.6 C379.2,782.6 382.6,787 387,789.6 L380.6,798.2 C373.6,791 370.2,782 371,771.2 C372.4,756 382,747.4 393.2,742.4 Z" fill="#231f20" stroke="#231f20" stroke-width="0.6" stroke-linejoin="round"/>
<path d="M391,767.2 L399,763.6 L417.6,763.6 L438,770.4 L442.2,785.8 L417.6,792.8 L405.4,791.8 L404.4,783.6 L392,776.4 Z" fill="#fff" stroke="#231f20" stroke-width="2.4" stroke-linejoin="round"/>
<path d="M400.6,769.6 L417.6,764 L436,769.6 L419.6,776.6 Z" fill="#000" stroke="#000" stroke-width="1" stroke-linejoin="round"/>
<path d="M392,771.6 L417,779.6 L418.6,797 M417,779.6 L436,771.4" fill="none" stroke="#231f20" stroke-width="2.8" />
<path d="M405,784.8 L417.4,787.6" fill="none" stroke="#231f20" stroke-width="1.8" />
<path d="M329.4,912.8 L399.1,890.3 L395,884.1 L426.8,888.2 L405.3,909.7 L403.2,901.5 L334.5,924.1 Z" fill="#231f20" stroke="#231f20" stroke-width="0.6" />
<line x1="766.2" y1="702" x2="766.2" y2="778.4" stroke="#231f20" stroke-width="1.8" />
<path d="M760.6,877 C756,910 747,944 734.4,969.6" fill="none" stroke="#231f20" stroke-width="2" />
<clipPath id="hc2"><polygon points="667,829.4 790,795.8 790,866.4 667,904.6"/></clipPath><polygon points="667,829.4 790,795.8 790,866.4 667,904.6" fill="#fff"/><g clip-path="url(#hc2)"><path d="M625,841.9 C645,850.5 653.4,890.5 635.5,913.4 M633.2,839.6 C653.2,848.2 661.6,888.1 643.7,910.8 M641.4,837.4 C661.4,845.9 669.8,885.6 651.9,908.3 M649.6,835.2 C669.6,843.6 678,883.2 660.1,905.7 M657.8,832.9 C677.8,841.3 686.2,880.7 668.3,903.2 M666,830.7 C686,839.1 694.4,878.3 676.5,900.6 M674.2,828.4 C694.2,836.8 702.6,875.8 684.7,898.1 M682.4,826.2 C702.4,834.5 710.8,873.4 692.9,895.6 M690.6,824 C710.6,832.2 719,870.9 701.1,893 M698.8,821.7 C718.8,830 727.2,868.5 709.3,890.5 M707,819.5 C727,827.7 735.4,866 717.5,887.9 M715.2,817.2 C735.2,825.4 743.6,863.6 725.7,885.4 M723.4,815 C743.4,823.1 751.8,861.1 733.9,882.8 M731.6,812.8 C751.6,820.9 760,858.7 742.1,880.3 M739.8,810.5 C759.8,818.6 768.2,856.2 750.3,877.7 M748,808.3 C768,816.3 776.4,853.8 758.5,875.2 M756.2,806 C776.2,814 784.6,851.3 766.7,872.6 M764.4,803.8 C784.4,811.7 792.8,848.9 774.9,870.1 M772.6,801.6 C792.6,809.5 801,846.4 783.1,867.5 M780.8,799.3 C800.8,807.2 809.2,844 791.3,865 M789,797.1 C809,804.9 817.4,841.5 799.5,862.4" fill="none" stroke="#231f20" stroke-width="2.15"/></g><path d="M667,830.4 L790,796.8" stroke="#231f20" stroke-width="3.6" fill="none"/><path d="M667,903.6 L790,865.4" stroke="#231f20" stroke-width="3.0" fill="none"/>
<path d="M 778.7,811.6 L 800.2,820.2 L 821.7,813.7 C 832.4,824.5 833.5,841.7 821.7,854.5 L 793.8,866.4 L 785.2,868.5 C 794.8,852.4 793.8,828.8 778.7,811.6 Z" fill="#fff" stroke="none" stroke-width="0" />
<path d="M 778.7,810.5 C 791.6,824.5 797,845.9 785.2,868.5" fill="none" stroke="#231f20" stroke-width="7.6" />
<circle cx="781.9" cy="826.6" r="0.9" fill="#fff"/>
<circle cx="783.6" cy="831.4" r="0.9" fill="#fff"/>
<circle cx="786" cy="836.5" r="0.9" fill="#fff"/>
<circle cx="790.7" cy="840" r="0.9" fill="#fff"/>
<circle cx="791.8" cy="851.3" r="0.9" fill="#fff"/>
<circle cx="786" cy="857.2" r="0.9" fill="#fff"/>
<circle cx="786.2" cy="866.9" r="0.9" fill="#fff"/>
<circle cx="777.6" cy="863.7" r="0.9" fill="#fff"/>
<path d="M 804.5,824.5 C 809.9,835.2 809.9,845.9 805.6,855.6" fill="none" stroke="#231f20" stroke-width="1.8" />
<path d="M 809.9,823.4 C 815.2,835.2 815.2,845.9 810.9,854.5" fill="none" stroke="#231f20" stroke-width="4.4" />
<path d="M 819.5,818 C 824.9,829.8 824.9,843.8 817.4,853.5" fill="none" stroke="#231f20" stroke-width="1.8" />
<path d="M 824.9,813.7 C 833.5,824.5 834.6,839.5 824.9,853.5 L 817.4,856.7 C 808.8,859.9 800.2,863.1 789.5,867.4" fill="none" stroke="#231f20" stroke-width="2.2" />
<path d="M 789.5,866.4 L 817.4,855.6" fill="none" stroke="#231f20" stroke-width="5" />
<path d="M 745.4,810.5 L 741.1,805.1 L 735.7,796.5 L 733.6,785.8 L 735.7,774 L 743.3,768.6 L 757.2,765.4 L 762.1,769.7 L 764.2,778.3 L 778.7,780.4 L 780.9,784.7 L 773.3,795.5 L 772.3,809.4 L 757.2,811.6 Z" fill="#fff" stroke="#231f20" stroke-width="2.6" stroke-linejoin="round"/>
<path d="M 743.3,771.8 C 740,781.5 742.2,794.4 749.7,806.2" fill="none" stroke="#231f20" stroke-width="2.4" />
<path d="M 743.8,780.4 L 757.2,778.3 L 764.8,779.3 L 778.7,780.9 L 780.3,785.2 L 775.5,792.2 L 772.3,797.6 L 760.5,799.8 L 750.8,801.9 L 746.5,792.2 Z" fill="#000" stroke="#000" stroke-width="1" stroke-linejoin="round"/>
<rect x="747" y="781.5" width="3.2" height="3.2" rx="1" fill="#fff"/>
<rect x="751.9" y="785.2" width="3.2" height="7.5" rx="1" fill="#fff"/>
<rect x="756.2" y="783.1" width="4.3" height="4.8" rx="1" fill="#fff"/>
<rect x="768" y="783.1" width="2.7" height="6.4" rx="1" fill="#fff"/>
<rect x="772.8" y="783.1" width="2.1" height="5.4" rx="1" fill="#fff"/>
<rect x="761.5" y="792.2" width="4.8" height="4.8" rx="1" fill="#fff"/>
<rect x="750.2" y="797.1" width="2.7" height="2.7" rx="1" fill="#fff"/>
<path d="M 750.2,803 L 771.2,798.1 L 772.3,808.3 L 750.8,810.5 Z" fill="#fff" stroke="#231f20" stroke-width="2.2" stroke-linejoin="round"/>
<line x1="766.2" y1="770" x2="766.2" y2="791" stroke="#231f20" stroke-width="1.8" />
<path d="M 780.9,824.5 L 779.8,796.5 C 783,786.9 789.5,777.2 794.8,774 L 804.5,778.3 L 808.3,783.6 L 805.6,792.2 L 789.5,792.2 L 785.2,805.1 Z" fill="#fff" stroke="#231f20" stroke-width="2.6" stroke-linejoin="round"/>
<path d="M 783.6,795.5 C 786.2,787.9 791.6,782.6 798.1,779.9 M 787.3,797.1 C 789.5,791.2 793.8,786.9 800.2,784.2" fill="none" stroke="#231f20" stroke-width="2.0" />
<path d="M 800.2,776.1 L 807.7,781.5 L 806.7,791.2 L 800.2,792.2" fill="none" stroke="#231f20" stroke-width="4.2" stroke-linejoin="round"/>
<path d="M 780.9,797.6 L 780.9,824.5" fill="none" stroke="#231f20" stroke-width="4.6" />
<path d="M 785.2,806.2 C 787.3,798.7 791.6,792.2 800.2,793.3 L 819.5,794.4 C 827.1,796.5 830.3,803 827.1,808.3 C 821.7,815.9 813.1,820.2 804.5,822.3 L 794.8,821.8 C 789.5,818 786.2,813.7 785.2,806.2 Z" fill="#fff" stroke="#231f20" stroke-width="2.6" stroke-linejoin="round"/>
<path d="M 789.5,800.8 L 798.1,795.5 M 795.9,807.3 L 806.7,800.3 M 800.2,812.6 L 814.2,802.4 M 802.4,816.4 L 819.5,806.2" fill="none" stroke="#231f20" stroke-width="1.8" />
<path d="M721.2,768.8 C724,762 727,754 731,751.4 C735,749 738,749 742.6,749" fill="none" stroke="#231f20" stroke-width="3" />
<polygon points="744,742.5 742.5,763 765.2,754.2" fill="#231f20" stroke="#231f20" stroke-width="0.6" />
<polygon points="785,759.3 807.7,749.8 805.5,771" fill="#231f20" stroke="#231f20" stroke-width="0.6" />
<path d="M807,761 C810,765 812,770 814.3,774.7" fill="none" stroke="#231f20" stroke-width="3" />
<path d="M817.2,784.2 C824,779.6 832,778 838,782 C846,787 850.6,798 847.4,808 L845.4,812.4 L844.6,818.8 L833.2,816.4 L832.6,804 L836.4,806.6 C839.6,800 838.6,794 832.6,790.6 C829.6,789.6 827,790.6 824.5,791.6 Z" fill="#231f20" stroke="#231f20" stroke-width="0.6" stroke-linejoin="round"/>
<line x1="1049" y1="702" x2="1049" y2="759.4" stroke="#231f20" stroke-width="1.8" />
<path d="M1049.6,866 C1045,900 1036,940 1021.4,969.6" fill="none" stroke="#231f20" stroke-width="2" />
<clipPath id="hc3"><polygon points="918.2,837 1060,794.9 1060,861.5 918.2,908.1"/></clipPath><polygon points="918.2,837 1060,794.9 1060,861.5 918.2,908.1" fill="#fff"/><g clip-path="url(#hc3)"><path d="M876.2,850.5 C891.2,858.6 897.5,896.8 883.2,918.6 M883.2,848.4 C898.2,856.5 904.5,894.6 890.2,916.3 M890.2,846.3 C905.2,854.4 911.5,892.3 897.2,914 M897.2,844.2 C912.2,852.3 918.5,890.1 904.2,911.7 M904.2,842.2 C919.2,850.2 925.5,887.9 911.2,909.4 M911.2,840.1 C926.2,848.1 932.5,885.7 918.2,907.1 M918.2,838 C933.2,846 939.5,883.4 925.2,904.8 M925.2,835.9 C940.2,843.9 946.5,881.2 932.2,902.5 M932.2,833.8 C947.2,841.8 953.5,879 939.2,900.2 M939.2,831.8 C954.2,839.7 960.5,876.7 946.2,897.9 M946.2,829.7 C961.2,837.6 967.5,874.5 953.2,895.6 M953.2,827.6 C968.2,835.5 974.5,872.3 960.2,893.3 M960.2,825.5 C975.2,833.4 981.5,870 967.2,891 M967.2,823.5 C982.2,831.3 988.5,867.8 974.2,888.7 M974.2,821.4 C989.2,829.2 995.5,865.6 981.2,886.4 M981.2,819.3 C996.2,827.1 1002.5,863.4 988.2,884.1 M988.2,817.2 C1003.2,825 1009.5,861.1 995.2,881.8 M995.2,815.1 C1010.2,822.9 1016.5,858.9 1002.2,879.5 M1002.2,813.1 C1017.2,820.8 1023.5,856.7 1009.2,877.2 M1009.2,811 C1024.2,818.7 1030.5,854.4 1016.2,874.9 M1016.2,808.9 C1031.2,816.5 1037.5,852.2 1023.2,872.6 M1023.2,806.8 C1038.2,814.4 1044.5,850 1030.2,870.3 M1030.2,804.7 C1045.2,812.3 1051.5,847.8 1037.2,868 M1037.2,802.7 C1052.2,810.2 1058.5,845.5 1044.2,865.7 M1044.2,800.6 C1059.2,808.1 1065.5,843.3 1051.2,863.4 M1051.2,798.5 C1066.2,806 1072.5,841.1 1058.2,861.1 M1058.2,796.4 C1073.2,803.9 1079.5,838.8 1065.2,858.8" fill="none" stroke="#231f20" stroke-width="1.9"/></g><path d="M918.2,838 L1060,795.9" stroke="#231f20" stroke-width="3.6" fill="none"/><path d="M918.2,907.1 L1060,860.5" stroke="#231f20" stroke-width="3.0" fill="none"/>
<path d="M 1057.5,801.5 L 1076.2,803.9 L 1092.6,798 C 1109,813.3 1111.4,832 1102,843.7 L 1085.6,853.1 L 1055.1,863.6 C 1069.2,846.1 1069.2,820.3 1057.5,801.5 Z" fill="#fff" stroke="none" stroke-width="0" />
<path d="M 1058.1,801.5 C 1071.5,820.3 1075.1,843.7 1056.3,863.1" fill="none" stroke="#231f20" stroke-width="7.4" />
<path d="M 1050.5,863.1 L 1058.7,861.3" fill="none" stroke="#231f20" stroke-width="5" />
<path d="M 1077.4,803.3 C 1090.3,820.3 1092.6,841.4 1075.1,857.2" fill="none" stroke="#231f20" stroke-width="7.6" />
<path d="M 1066.9,805.1 C 1078.6,822.6 1082.1,841.4 1066.9,859" fill="none" stroke="#231f20" stroke-width="1.6" />
<path d="M 1086.8,802.7 C 1099.7,817.9 1102,836.7 1092.6,847.2" fill="none" stroke="#231f20" stroke-width="2.0" />
<path d="M 1093.2,798 C 1109,813.3 1111.4,832 1102,843.7 L 1092.6,847.8 C 1085.6,851.9 1076.2,856.6 1066.9,860.7" fill="none" stroke="#231f20" stroke-width="2.2" />
<circle cx="1061" cy="809.7" r="0.8" fill="#fff"/>
<circle cx="1063.9" cy="815.6" r="0.8" fill="#fff"/>
<circle cx="1067.4" cy="820.3" r="0.8" fill="#fff"/>
<circle cx="1069.8" cy="825" r="0.8" fill="#fff"/>
<circle cx="1070.4" cy="849.6" r="0.8" fill="#fff"/>
<path d="M 1034.1,802.7 L 1034.1,788.7 L 1029.4,785.1 L 1030,775.8 L 1037.6,765.2 L 1048.1,759.4 L 1055.1,760.5 L 1059.2,764.6 L 1069.2,765.2 L 1076.2,769.9 L 1078,780.5 L 1071.5,793.3 L 1058.7,799.2 L 1057.5,805.1 Z" fill="#fff" stroke="#231f20" stroke-width="2.4" stroke-linejoin="round"/>
<path d="M 1035.8,774.6 L 1035.8,787.5 M 1049.3,767.6 L 1049.3,803.9 M 1055.1,764.1 L 1056.3,802.7" fill="none" stroke="#231f20" stroke-width="2.0" />
<path d="M 1042.3,769.9 L 1041.7,799.2" fill="none" stroke="#231f20" stroke-width="4.6" />
<path d="M 1038.7,768.7 L 1048.1,762.9 M 1044.6,775.8 L 1057.5,767.6" fill="none" stroke="#231f20" stroke-width="2.0" />
<path d="M 1046.4,784 L 1046.4,793.3" fill="none" stroke="#231f20" stroke-width="3.6" />
<path d="M 1058.7,765.8 L 1069.2,765.8 L 1076.8,771.1 L 1077.4,781.6" fill="none" stroke="#231f20" stroke-width="4.8" stroke-linejoin="round"/>
<path d="M 1057.5,773.4 C 1059.8,769.9 1064.5,768.7 1069.2,769.9" fill="none" stroke="#231f20" stroke-width="2.0" />
<path d="M 1061,781.6 L 1069.2,779.3 L 1078.6,781.6 L 1071.5,791 L 1064.5,788.7 L 1061,785.1 Z" fill="#000" stroke="#000" stroke-width="1.2" stroke-linejoin="round"/>
<path d="M 1056.3,791 L 1056.3,796.9" fill="none" stroke="#231f20" stroke-width="4.2" />
<path d="M 1066.9,796.9 L 1071.5,793.3 L 1080.9,780.7 L 1093.8,779.5 L 1098.3,784.2 L 1095,792.4 L 1085.6,799.4 L 1076.2,801.8 Z" fill="#fff" stroke="#231f20" stroke-width="2.6" stroke-linejoin="round"/>
<path d="M 1073.9,794.5 L 1084.4,786.3 M 1077.4,798 L 1090.3,787.5 M 1080.9,799.2 L 1093.8,789.8" fill="none" stroke="#231f20" stroke-width="1.8" />
<path d="M1093.3,765.6 C1098,760.6 1104,758.6 1110,761 C1119,765.6 1124,776 1122.6,786 C1121.6,791 1119,795 1116.6,797 L1115,802 L1102.8,795.8 L1107.4,782 L1110,787.4 C1114.6,782 1113.6,775 1108.6,771.4 C1106,770 1103.6,770.6 1100.6,772.6 Z" fill="#231f20" stroke="#231f20" stroke-width="0.6" stroke-linejoin="round"/>
</g>
</svg>
</body>
</html>
